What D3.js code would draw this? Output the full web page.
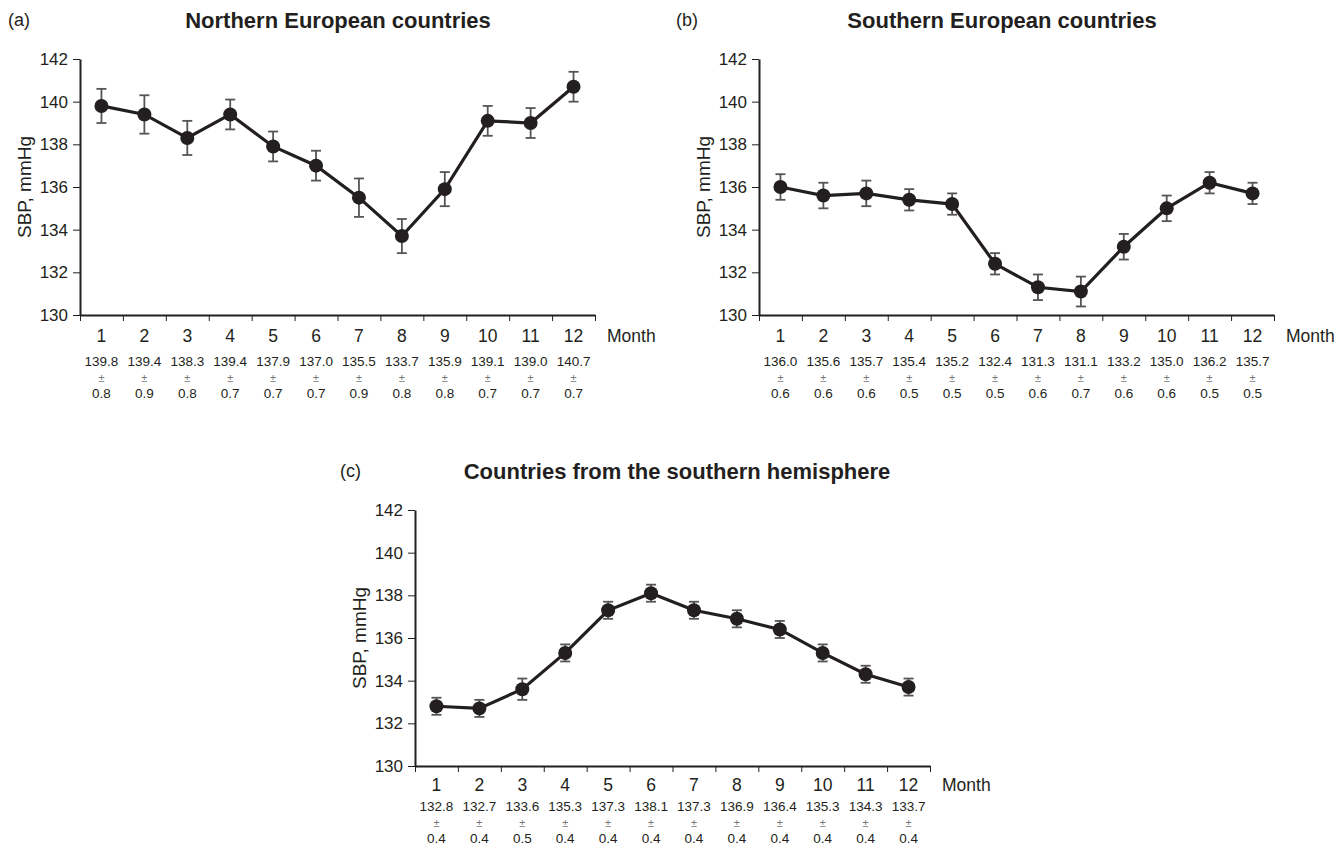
<!DOCTYPE html>
<html>
<head>
<meta charset="utf-8">
<script src="https://cdn.jsdelivr.net/npm/d3@7"></script>
<style>
  body { margin: 0; background: #fff; }
  svg { font-family: "Liberation Sans", Arial, sans-serif; }
  .axis path, .axis line { stroke: #231f20; }
  .axis text { font-size: 17px; fill: #231f20; }
</style>
</head>
<body>
<div id="chart"></div>
<script>
// data
const months = [1, 2, 3, 4, 5, 6, 7, 8, 9, 10, 11, 12];
const yTicks = [130, 132, 134, 136, 138, 140, 142];

const northMean = [139.8, 139.4, 138.3, 139.4, 137.9, 137.0, 135.5, 133.7, 135.9, 139.1, 139.0, 140.7];
const northSE = [0.8, 0.9, 0.8, 0.7, 0.7, 0.7, 0.9, 0.8, 0.8, 0.7, 0.7, 0.7];
const southMean = [136.0, 135.6, 135.7, 135.4, 135.2, 132.4, 131.3, 131.1, 133.2, 135.0, 136.2, 135.7];
const southSE = [0.6, 0.6, 0.6, 0.5, 0.5, 0.5, 0.6, 0.7, 0.6, 0.6, 0.5, 0.5];
const hemiMean = [132.8, 132.7, 133.6, 135.3, 137.3, 138.1, 137.3, 136.9, 136.4, 135.3, 134.3, 133.7];
const hemiSE = [0.4, 0.4, 0.5, 0.4, 0.4, 0.4, 0.4, 0.4, 0.4, 0.4, 0.4, 0.4];

const svg = d3.select("#chart").append("svg")
    .attr("width", 1343)
    .attr("height", 850);

// 面板位置 (rows: 月份/均值/±/标准误 的基线偏移)
const panels = [
    {tag: "(a)", title: "Northern European countries", mean: northMean, se: northSE,
     left: 80, top: 59, tagX: 8, titleX: 338, rows: [27, 51, 67, 83]},
    {tag: "(b)", title: "Southern European countries", mean: southMean, se: southSE,
     left: 759, top: 59, tagX: 676, titleX: 1002, rows: [27, 51, 67, 83]},
    {tag: "(c)", title: "Countries from the southern hemisphere", mean: hemiMean, se: hemiSE,
     left: 415, top: 510, tagX: 340, titleX: 677, rows: [25, 45, 61, 77]}
];
const w = 515, h = 256;

const drawPanel = function (p) {
    const g = svg.append("g")
        .attr("transform", "translate(" + p.left + "," + p.top + ")");

    const x = d3.scaleLinear().domain([0, 12]).range([0, w]);
    const y = d3.scaleLinear().domain([130, 142]).range([h, 0]);

    // 标题
    svg.append("text")
        .attr("x", p.tagX).attr("y", p.top - 33)
        .attr("font-size", 18).attr("fill", "#231f20")
        .text(p.tag);
    svg.append("text")
        .attr("x", p.titleX).attr("y", p.top - 31)
        .attr("text-anchor", "middle")
        .attr("font-size", 22).attr("font-weight", "bold").attr("fill", "#231f20")
        .text(p.title);

    // 坐标轴
    g.append("g")
        .attr("class", "axis")
        .attr("transform", "translate(0," + h + ")")
        .call(d3.axisBottom(x).tickValues(d3.range(0, 13)).tickFormat("").tickSize(6).tickSizeOuter(0))
        .call(s => s.select(".domain").attr("stroke-width", 2));
    g.append("g")
        .attr("class", "axis")
        .call(d3.axisLeft(y).tickValues(yTicks).tickSize(7).tickSizeOuter(0).tickPadding(5))
        .call(s => s.select(".domain").attr("stroke-width", 2));

    g.append("text")
        .attr("transform", "translate(-49," + (h / 2) + ") rotate(-90)")
        .attr("text-anchor", "middle")
        .attr("font-size", 19).attr("fill", "#231f20")
        .text("SBP, mmHg");

    // 月份及数值标签
    const labels = g.selectAll(".mlabel")
        .data(months)
        .enter().append("g")
        .attr("transform", (d, i) => "translate(" + x(i + 0.5) + "," + h + ")")
        .attr("text-anchor", "middle")
        .attr("fill", "#231f20");
    labels.append("text").attr("y", p.rows[0]).attr("font-size", 17.5).text(d => d);
    labels.append("text").attr("y", p.rows[1]).attr("font-size", 13.5).text((d, i) => p.mean[i].toFixed(1));
    labels.append("text").attr("y", p.rows[2]).attr("font-size", 11).attr("fill", "#777").text("±");
    labels.append("text").attr("y", p.rows[3]).attr("font-size", 13.5).text((d, i) => p.se[i].toFixed(1));

    g.append("text")
        .attr("x", w + 12).attr("y", h + p.rows[0])
        .attr("font-size", 17.5).attr("fill", "#231f20")
        .text("Month");

    // 误差线
    const err = g.selectAll(".err")
        .data(months)
        .enter().append("g")
        .attr("stroke", "#555").attr("stroke-width", 1.8);
    err.append("line")
        .attr("x1", (d, i) => x(i + 0.5)).attr("x2", (d, i) => x(i + 0.5))
        .attr("y1", (d, i) => y(p.mean[i] - p.se[i])).attr("y2", (d, i) => y(p.mean[i] + p.se[i]));
    err.append("line")
        .attr("x1", (d, i) => x(i + 0.5) - 5).attr("x2", (d, i) => x(i + 0.5) + 5)
        .attr("y1", (d, i) => y(p.mean[i] - p.se[i])).attr("y2", (d, i) => y(p.mean[i] - p.se[i]));
    err.append("line")
        .attr("x1", (d, i) => x(i + 0.5) - 5).attr("x2", (d, i) => x(i + 0.5) + 5)
        .attr("y1", (d, i) => y(p.mean[i] + p.se[i])).attr("y2", (d, i) => y(p.mean[i] + p.se[i]));

    // 折线和点
    const line = d3.line()
        .x((d, i) => x(i + 0.5))
        .y(d => y(d));
    g.append("path")
        .datum(p.mean)
        .attr("fill", "none")
        .attr("stroke", "#231f20")
        .attr("stroke-width", 3.2)
        .attr("d", line);
    g.selectAll(".dot")
        .data(p.mean)
        .enter().append("circle")
        .attr("cx", (d, i) => x(i + 0.5))
        .attr("cy", d => y(d))
        .attr("r", 7)
        .attr("fill", "#231f20");
};

panels.forEach(drawPanel);
</script>
</body>
</html>
